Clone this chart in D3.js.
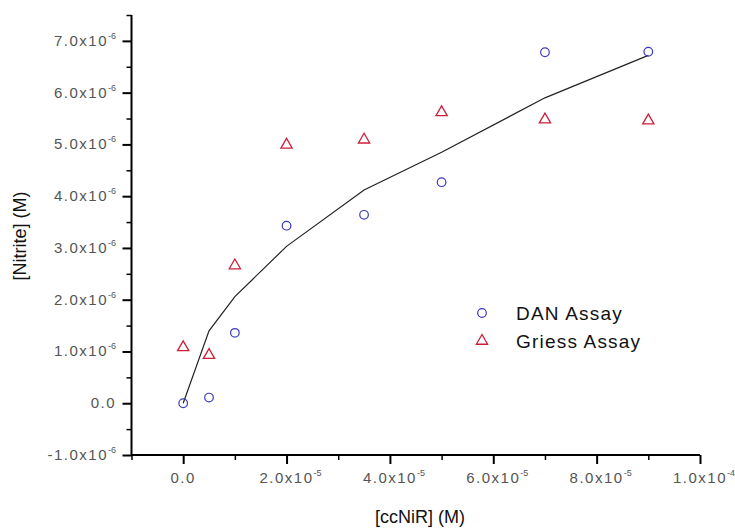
<!DOCTYPE html>
<html><head><meta charset="utf-8">
<script src="https://cdn.jsdelivr.net/npm/d3@7"></script>
<style>
body{margin:0;background:#fff;}
svg text{font-family:"Liberation Sans",Arial,sans-serif;}
</style></head>
<body><svg id="c" width="735" height="529"></svg>
<script>
// ---- data ----
const ccNiR = [0, 0.5e-5, 1e-5, 2e-5, 3.5e-5, 5e-5, 7e-5, 9e-5];
const danAssay = [0, 0.11e-6, 1.36e-6, 3.43e-6, 3.64e-6, 4.27e-6, 6.78e-6, 6.79e-6];
const griessAssay = [1.08e-6, 0.93e-6, 2.66e-6, 4.99e-6, 5.09e-6, 5.62e-6, 5.48e-6, 5.46e-6];
const fitLine = [0, 1.40e-6, 2.06e-6, 3.03e-6, 4.12e-6, 4.85e-6, 5.90e-6, 6.72e-6];
const xTickValues = [0, 2e-5, 4e-5, 6e-5, 8e-5, 1e-4];
const xTickLabels = [["0.0",""],["2.0x10","-5"],["4.0x10","-5"],["6.0x10","-5"],["8.0x10","-5"],["1.0x10","-4"]];
const yTickValues = [-1e-6, 0, 1e-6, 2e-6, 3e-6, 4e-6, 5e-6, 6e-6, 7e-6];
const yTickLabels = [["-1.0x10","-6"],["0.0",""],["1.0x10","-6"],["2.0x10","-6"],["3.0x10","-6"],["4.0x10","-6"],["5.0x10","-6"],["6.0x10","-6"],["7.0x10","-6"]];
const legendLabels = ["DAN Assay", "Griess Assay"];

const svg = d3.select("#c");
const x = d3.scaleLinear().domain([-1e-5, 1e-4]).range([131.5, 700]);
const y = d3.scaleLinear().domain([-1e-6, 7.5e-6]).range([455, 15]);
const tickColor = "#555";

// minor ticks
const xMinor = d3.range(-1e-5, 1.0001e-4, 1e-5).filter(v => Math.abs(Math.round(v/1e-5)) % 2 === 1);
const yMinor = d3.range(-0.5e-6, 7.6e-6, 1e-6);

const gx = svg.append("g").attr("transform", "translate(0,455)");
gx.call(d3.axisBottom(x).tickValues(xTickValues).tickSize(9).tickFormat(""));
gx.select(".domain").attr("stroke", "#000").attr("stroke-width", 2).attr("d", "M131,0H700");
gx.selectAll(".tick line").attr("stroke", "#000").attr("stroke-width", 2);
gx.append("g").call(d3.axisBottom(x).tickValues(xMinor).tickSize(5).tickFormat(""))
  .call(g => { g.select(".domain").remove(); g.selectAll(".tick line").attr("stroke","#000").attr("stroke-width",1.5); });

const gy = svg.append("g").attr("transform", "translate(131.5,0)");
gy.call(d3.axisLeft(y).tickValues(yTickValues).tickSize(9).tickFormat(""));
gy.select(".domain").attr("stroke", "#000").attr("stroke-width", 2).attr("d", "M0,15V456");
gy.selectAll(".tick line").attr("stroke", "#000").attr("stroke-width", 2);
gy.append("g").call(d3.axisLeft(y).tickValues(yMinor).tickSize(5).tickFormat(""))
  .call(g => { g.select(".domain").remove(); g.selectAll(".tick line").attr("stroke","#000").attr("stroke-width",1.5); });

function label(g, xpos, ypos, parts, anchor) {
  const t = g.append("text").attr("x", xpos).attr("y", ypos).attr("text-anchor", anchor)
    .attr("fill", tickColor).attr("font-size", 15).attr("letter-spacing", 1.5);
  t.append("tspan").text(parts[0]);
  if (parts[1]) t.append("tspan").attr("dy", -7).attr("font-size", 9).attr("letter-spacing", 0).text(parts[1]);
}
const lab = svg.append("g");
xTickValues.forEach((v, i) => label(lab, x(v) + (i === 0 ? 0 : 4), 483, xTickLabels[i], "middle"));
yTickValues.forEach((v, i) => label(lab, 116, y(v) + 5, yTickLabels[i], "end"));

// axis titles
svg.append("text").attr("x", 420).attr("y", 523).attr("text-anchor", "middle")
  .attr("font-size", 18).attr("fill", "#111").text("[ccNiR] (M)");
svg.append("text").attr("transform", "translate(26,236) rotate(-90)").attr("text-anchor", "middle")
  .attr("font-size", 18).attr("fill", "#111").text("[Nitrite] (M)");

// fit line
const line = d3.line().x((d, i) => x(ccNiR[i])).y(d => y(d));
svg.append("path").datum(fitLine).attr("d", line).attr("fill", "none")
  .attr("stroke", "#222").attr("stroke-width", 1.2);

const blue = "#3a3ac0", red = "#cc1f3a";
const tri = d3.symbol().type(d3.symbolTriangle).size(55);

svg.append("g").selectAll("circle").data(danAssay).join("circle")
  .attr("cx", (d, i) => x(ccNiR[i])).attr("cy", d => y(d)).attr("r", 4.3)
  .attr("fill", "none").attr("stroke", blue).attr("stroke-width", 1.2);
svg.append("g").selectAll("path").data(griessAssay).join("path")
  .attr("d", tri).attr("transform", (d, i) => `translate(${x(ccNiR[i])},${y(d)})`)
  .attr("fill", "none").attr("stroke", red).attr("stroke-width", 1.3);

// legend
const lg = svg.append("g");
lg.append("circle").attr("cx", 482).attr("cy", 313).attr("r", 4.3)
  .attr("fill", "none").attr("stroke", blue).attr("stroke-width", 1.2);
lg.append("path").attr("d", tri).attr("transform", "translate(482,341)")
  .attr("fill", "none").attr("stroke", red).attr("stroke-width", 1.3);
legendLabels.forEach((t, i) => lg.append("text").attr("x", 516).attr("y", 320 + i * 28)
  .attr("font-size", 19).attr("letter-spacing", 1.2).attr("fill", "#111").text(t));
</script></body></html>
